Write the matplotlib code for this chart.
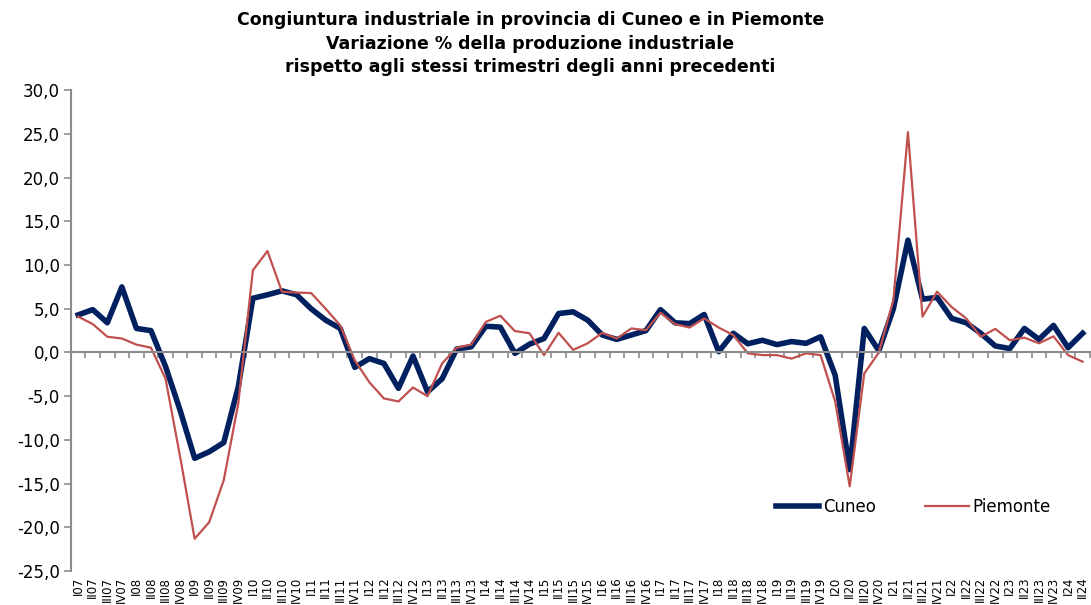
import matplotlib
matplotlib.use("Agg")
import matplotlib.pyplot as plt
import numpy as np

plt.rcParams.update({
    "figure.facecolor": "white",
    "axes.facecolor": "white",
    "font.family": "DejaVu Sans",
})

# quarters I07 .. II24
ROMAN = ["I", "II", "III", "IV"]
QUARTERS = [f"{ROMAN[q]}{y:02d}" for y in range(7, 25) for q in range(4)][:70]

CUNEO = [
    4.3, 4.9, 3.4, 7.5, 2.75, 2.5, -1.6, -6.6, -12.1, -11.35,
    -10.3, -3.9, 6.2, 6.6, 7.05, 6.6, 5.0, 3.7, 2.75, -1.7,
    -0.7, -1.25, -4.1, -0.4, -4.5, -3.0, 0.4, 0.65, 3.0, 2.9,
    -0.1, 0.95, 1.6, 4.45, 4.65, 3.7, 2.0, 1.5, 2.0, 2.5,
    4.9, 3.4, 3.3, 4.35, 0.1, 2.2, 1.0, 1.4, 0.9, 1.25,
    1.05, 1.8, -2.6, -13.4, 2.75, 0.2, 5.0, 12.85, 6.1, 6.3,
    3.9, 3.4, 2.2, 0.75, 0.45, 2.75, 1.5, 3.1, 0.55, 2.2,
]
PIEMONTE = [
    4.1, 3.25, 1.8, 1.6, 0.9, 0.55, -3.0, -11.9, -21.3, -19.4,
    -14.6, -5.8, 9.4, 11.6, 6.95, 6.85, 6.8, 5.0, 3.1, -0.9,
    -3.4, -5.25, -5.6, -4.0, -5.0, -1.25, 0.55, 0.9, 3.5, 4.2,
    2.45, 2.2, -0.3, 2.25, 0.3, 1.05, 2.25, 1.6, 2.75, 2.55,
    4.55, 3.25, 2.85, 3.9, 2.85, 2.0, -0.1, -0.3, -0.3, -0.7,
    -0.1, -0.3, -5.6, -15.3, -2.4, 0.0, 6.0, 25.2, 4.1, 6.95,
    5.2, 3.9, 1.8, 2.7, 1.4, 1.7, 1.05, 1.85, -0.3, -1.05,
]

YTICKS = np.arange(-25, 31, 5)

fig = plt.figure(figsize=(10.91, 6.05), dpi=100)
ax = fig.add_axes([0.065, 0.056, 0.934, 0.795])

x = np.arange(len(QUARTERS))
ax.plot(x, CUNEO, color="#002060", lw=4.0, label="Cuneo")
ax.plot(x, PIEMONTE, color="#C0504D", lw=1.6, label="Piemonte")

ax.set_xlim(-0.5, len(QUARTERS) - 0.5)
ax.set_ylim(-25, 30)
ax.set_yticks(YTICKS)
ax.set_yticklabels([f"{v:.1f}".replace(".", ",") for v in YTICKS], fontsize=12)
ax.tick_params(axis="y", length=5, color="#8c8c8c", width=1.2, pad=3)

for s in ["top", "right"]:
    ax.spines[s].set_visible(False)
ax.spines["left"].set_color("#8c8c8c")
ax.spines["left"].set_linewidth(1.5)

# category axis crosses at zero, tick marks between categories
ax.spines["bottom"].set_position(("data", 0))
ax.spines["bottom"].set_color("#8c8c8c")
ax.spines["bottom"].set_linewidth(1.5)
ax.set_xticks(np.arange(len(QUARTERS) + 1) - 0.5)
ax.set_xticklabels([])
ax.tick_params(axis="x", length=4, color="#8c8c8c", width=1.2)

# labels sit at the bottom of the plot area
sec = ax.secondary_xaxis("bottom")
sec.set_xticks(x)
sec.set_xticklabels(QUARTERS, rotation=90, fontsize=8.5)
sec.tick_params(length=0, pad=4)
sec.spines["bottom"].set_visible(False)

ax.legend(loc="center left", bbox_to_anchor=(0.677, 0.133), ncol=2,
          frameon=False, fontsize=12, handlelength=2.6, handletextpad=0.25,
          columnspacing=2.95)

fig.text(0.486, 0.981,
         "Congiuntura industriale in provincia di Cuneo e in Piemonte\n"
         "Variazione % della produzione industriale\n"
         "rispetto agli stessi trimestri degli anni precedenti",
         ha="center", va="top", fontsize=12.5, fontweight="bold", linespacing=1.38)

fig.savefig("out.png", dpi=100)
